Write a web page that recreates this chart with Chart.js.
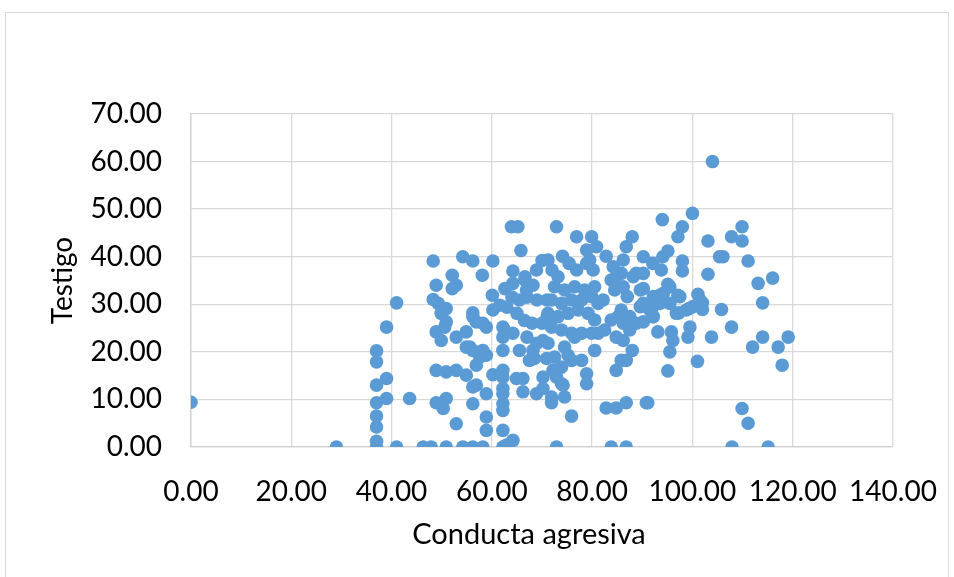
<!DOCTYPE html>
<html>
<head>
<meta charset="utf-8">
<script src="https://cdn.jsdelivr.net/npm/chart.js@4"></script>
<style>
  html, body { margin: 0; padding: 0; background: #fff; }
  #frame { position: absolute; left: 5px; top: 12px; width: 942px; height: 570px; border: 1px solid #d9d9d9; }
  #wrap { position: absolute; left: 0; top: 0; width: 954px; height: 577px; }
</style>
</head>
<body>
<div id="frame"></div>
<div id="wrap"><canvas id="myChart" width="954" height="577"></canvas></div>
<script>
// datos
var conductaAgresiva = [
  0, 29, 37, 37, 37, 37, 37, 37, 37, 37, 39, 39, 39, 41, 41, 43.6, 46.3, 47.9, 48.3, 48.3,
  48.9, 48.9, 48.9, 48.9, 49.3, 49.9, 49.9, 49.9, 50.3, 50.9, 50.9, 50.6, 50.9, 50.9, 50.9, 52.1,
  52.1, 52.9, 52.9, 52.9, 52.9, 54.2, 54.9, 54.9, 54.9, 54.2, 56.2, 56.2, 56.9, 56.2, 56.9, 56.2,
  56.9, 56.2, 56.2, 56.2, 55.6, 58.1, 58.9, 58.2, 58.9, 58.9, 58.9, 58.9, 58.2, 58.2, 57.6, 60.2,
  60.1, 60.2, 60.2, 61.6, 62.6, 62.2, 62.2, 62.2, 62.2, 62.2, 62.2, 62.2, 62.2, 62.2, 62.2, 62.9,
  62.2, 63.9, 65.2, 65.8, 64.2, 64.2, 64.9, 64.2, 66.6, 66.6, 66.9, 66.2, 66.2, 68.2, 68.9, 70,
  68.9, 70.2, 70.2, 68.5, 70.9, 64, 65.5, 67, 69, 71, 63, 65, 66.5, 68, 70, 71, 62.5, 64.2, 67,
  69, 70.2, 68.2, 67.5, 65.5, 72, 72.9, 73.2, 71.2, 74.1, 75.4, 72.5, 74.5, 76.5, 78.5, 80.5, 82.2,
  71.9, 73.9, 75.9, 77.9, 79.9, 81.2, 71.2, 73.2, 75.2, 77.2, 79.2, 80.5, 82.5, 83.8, 85.2, 85.8,
  71.9, 73.9, 75.9, 77.9, 79.9, 81.2, 71.2, 74.5, 76.5, 80.5, 84.8, 84.8, 85.8, 72.5, 73.9, 75.9,
  77.9, 78.9, 78.9, 72.2, 75.2, 73.9, 71.9, 74.5, 82.8, 84.8, 72.9, 74.2, 75.9, 71.9, 72.9, 83.8,
  86.8, 76.9, 79.9, 80.9, 78.9, 79.5, 82.8, 86.8, 88, 86.2, 90.2, 84.2, 84.8, 76.9, 78.9, 88.8,
  90.2, 80.2, 83.8, 85.2, 85.8, 84.5, 86.8, 88, 86.8, 90.8, 88.2, 86.2, 87, 89.6, 92.2, 94.2, 95.5,
  97.5, 93.5, 95.5, 87.5, 89.6, 91.5, 92.2, 86.2, 88.8, 96.8, 98.8, 100.1, 101.5, 87.5, 86.2, 95.5,
  101, 95.1, 104, 100, 94, 98, 97.1, 103.1, 107.8, 109.9, 109.9, 105.4, 106.1, 111.1, 95.1, 94.1,
  92.1, 93.8, 98, 98, 103.1, 116, 113.1, 114, 105.8, 101.1, 102, 102, 99.3, 97.3, 95.1, 97.1, 93.5,
  90.2, 90.2, 92.1, 90.2, 92.1, 107.8, 93.1, 95.8, 96.1, 99.5, 99.1, 103.8, 112, 114, 117.1, 119.1,
  117.9, 91.1, 109.9, 111.1, 107.9, 115.1
];
var testigo = [
  9.4, 0, 20.2, 17.9, 13, 9.3, 6.5, 4.2, 1.2, 0, 25.2, 14.4, 10.2, 30.3, 0, 10.2, 0, 0, 39.1, 31,
  34, 24.2, 16.1, 9.3, 30.2, 28.1, 22.4, 9.1, 8.1, 29.1, 26.3, 25.2, 15.8, 10.2, 0, 36.1,
  33.3, 34, 23.1, 16.1, 4.9, 40, 24.2, 21, 15.1, 0, 39.1, 28.2, 26.3, 20.3, 17.2, 12.6,
  13, 9.1, 0, 27.4, 21, 36.1, 25.2, 20.3, 19.3, 11.2, 6.3, 3.5, 0, 26, 18.9, 39.1,
  31.9, 28.8, 15.2, 29.8, 33.3, 25.2, 23.1, 20.3, 16.1, 14.7, 12.3, 11.2, 9.1, 7.7, 3.5, 0.4,
  0, 46.3, 46.3, 41.3, 37, 34.4, 14.4, 1.4, 35.8, 35.1, 33, 14.4, 11.6, 34, 37.2, 39.2,
  11.2, 14.7, 12.3, 18.6, 18.6, 31.5, 30.9, 31.5, 30.9, 30.9, 29.4, 28.1, 26.6, 26, 26, 27.3, 24.6, 23.9, 23.1,
  21.8, 22.4, 20.3, 18.2, 20.3, 37.2, 46.3, 35.8, 39.3, 40.1, 38.6, 33.7, 33, 33.7, 33, 33.7, 30.9,
  30.9, 30.2, 30.9, 30.9, 31.6, 30.2, 28.1, 27.4, 28.1, 28.8, 28.1, 26.7, 24.6, 26.7, 27.4, 28.8,
  25.2, 24.6, 23.9, 23.9, 23.9, 23.9, 21.8, 21, 23.1, 20.3, 23.1, 16.1, 18.2, 18.9, 16.8, 18.2,
  18.2, 15.4, 13.3, 16.1, 19.3, 13.3, 10.5, 10.5, 8.2, 8.2, 14.7, 13, 6.5, 9.3, 0, 0,
  0, 44.2, 44.2, 42.1, 41.4, 39.3, 40.1, 42.1, 44.2, 39.3, 40, 37.9, 35.8, 37.2, 38.6, 36.5,
  36.5, 37.2, 35.1, 33.7, 36.5, 33, 18.2, 20.3, 9.3, 9.3, 35.8, 33.7, 31.6, 33, 31.6, 32.3, 33.7,
  31.6, 30.2, 30.2, 27.4, 29.5, 28.8, 27.4, 26, 26, 28.1, 28.8, 29.5, 30.9, 24.6, 22.4, 20,
  18, 16, 60, 49.1, 47.8, 46.3, 44.2, 43.3, 44.2, 46.3, 43.3, 40, 40, 39.1, 41.2, 40,
  38.6, 37.2, 39.1, 37, 36.3, 35.5, 34.4, 30.3, 28.9, 32.1, 30.3, 28.9, 29.1, 28.2, 34.2, 31.9, 31.9,
  33.3, 30.2, 29.5, 26.3, 27.4, 25.2, 24.2, 24.2, 22.4, 25.2, 23.1, 23.1, 21, 23.1, 21, 23.1,
  17.2, 9.3, 8.1, 5, 0, 0
];
var xTicks = [0, 20, 40, 60, 80, 100, 120, 140];
var yTicks = [0, 10, 20, 30, 40, 50, 60, 70];
var xTitulo = 'Conducta agresiva';
var yTitulo = 'Testigo';

var puntos = conductaAgresiva.map(function(x, i) { return { x: x, y: testigo[i] }; });

var fuente = 'Lato, "Open Sans", sans-serif';

// titulo del eje x, un poco a la izquierda del centro como en Excel
var tituloX = {
    id: 'tituloX',
    afterDraw: function(chart) {
        var c = chart.ctx, a = chart.chartArea;
        c.save();
        c.fillStyle = '#000';
        c.font = '29px ' + fuente;
        c.textAlign = 'center';
        c.textBaseline = 'middle';
        c.fillText(xTitulo, (a.left + a.right) / 2 - 13, 535);
        c.restore();
    }
};

window.onload = function() {
    var ctx = document.getElementById('myChart').getContext('2d');
    var myChart = new Chart(ctx, {
        type: 'scatter',
        data: {
            datasets: [{
                label: yTitulo,
                data: puntos,
                backgroundColor: '#5b9bd5',
                borderColor: '#5b9bd5',
                pointRadius: 6.8,
                pointHoverRadius: 6.8,
                borderWidth: 0
            }]
        },
        options: {
            responsive: false,
            animation: false,
            layout: { padding: { left: 42, right: 61, top: 114, bottom: 22 } },
            plugins: { legend: { display: false }, tooltip: { enabled: false } },
            scales: {
                x: {
                    type: 'linear',
                    min: xTicks[0],
                    max: xTicks[xTicks.length - 1],
                    afterFit: function(scale) {
                        scale.height = 108;
                        // la etiqueta 140.00 puede salirse del area, como en el original
                        scale.paddingRight = 0;
                        scale.paddingLeft = 0;
                    },
                    ticks: {
                        stepSize: xTicks[1] - xTicks[0],
                        padding: 28,
                        color: '#000',
                        font: { family: fuente, size: 28 },
                        callback: function(v) { return v.toFixed(2); }
                    },
                    grid: { color: '#d9d9d9', lineWidth: 1.3, drawTicks: false },
                    border: { color: '#d0d0d0', width: 1.3 }
                },
                y: {
                    type: 'linear',
                    min: yTicks[0],
                    max: yTicks[yTicks.length - 1],
                    afterFit: function(scale) { scale.width = 149; },
                    ticks: {
                        stepSize: yTicks[1] - yTicks[0],
                        padding: 29,
                        color: '#000',
                        font: { family: fuente, size: 28 },
                        callback: function(v) { return v.toFixed(2); }
                    },
                    grid: { color: '#d9d9d9', lineWidth: 1.3, drawTicks: false },
                    border: { color: '#d0d0d0', width: 1.3 },
                    title: {
                        display: true,
                        text: yTitulo,
                        color: '#000',
                        font: { family: fuente, size: 28 }
                    }
                }
            }
        },
        plugins: [tituloX]
    });
};
</script>
</body>
</html>
